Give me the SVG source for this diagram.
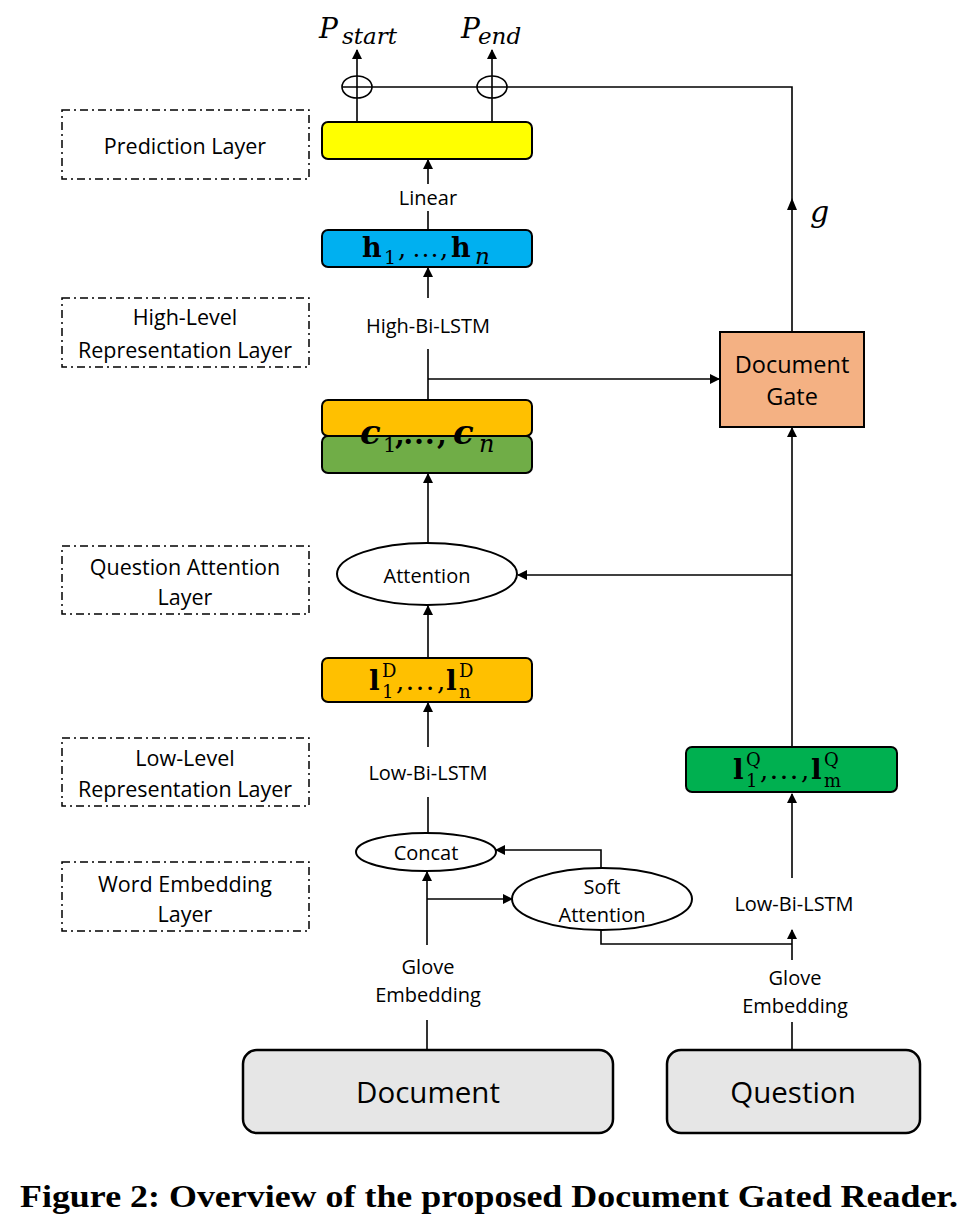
<svg xmlns="http://www.w3.org/2000/svg" width="980" height="1226" viewBox="0 0 980 1226">
<defs>
<marker id="arr" viewBox="0 0 10 10" refX="9" refY="5" markerWidth="10" markerHeight="10" markerUnits="userSpaceOnUse" orient="auto">
<path d="M0,0 L10,5 L0,10 z" fill="#000"/>
</marker>
<style>
.layer{fill:none;stroke:#000;stroke-width:1.5;stroke-dasharray:8 4 2 4}
.lbl{font-family:"Open Sans","Liberation Sans",sans-serif;fill:#000;text-anchor:middle;dominant-baseline:central}
.ll{font-size:21.5px}
.sm{font-size:20px}
.box{stroke:#000;stroke-width:2}
.ln{fill:none;stroke:#000;stroke-width:1.6}
.ar{fill:none;stroke:#000;stroke-width:1.6;marker-end:url(#arr)}
.math{font-family:"DejaVu Serif","Liberation Serif",serif;fill:#000}
.el{font-family:"Liberation Serif","DejaVu Serif",serif}
</style>
</defs>
<rect width="980" height="1226" fill="#fff"/>

<g id="layers">
<g id="layer-prediction"><rect class="layer" x="62" y="110" width="247" height="69"/><text class="lbl ll" x="185" y="145">Prediction Layer</text></g>
<g id="layer-high"><rect class="layer" x="62" y="298" width="247" height="69"/><text class="lbl ll" x="185" y="316">High-Level</text><text class="lbl ll" x="185" y="349">Representation Layer</text></g>
<g id="layer-qatt"><rect class="layer" x="62" y="546" width="247" height="68"/><text class="lbl ll" x="185" y="566">Question Attention</text><text class="lbl ll" x="185" y="596">Layer</text></g>
<g id="layer-low"><rect class="layer" x="62" y="738" width="247" height="68"/><text class="lbl ll" x="185" y="757">Low-Level</text><text class="lbl ll" x="185" y="788">Representation Layer</text></g>
<g id="layer-word"><rect class="layer" x="62" y="862" width="247" height="69"/><text class="lbl ll" x="185" y="883">Word Embedding</text><text class="lbl ll" x="185" y="913">Layer</text></g>
</g>

<g id="connectors">
<path class="ar" d="M357,122 V50"/>
<path class="ar" d="M492,122 V50"/>
<ellipse cx="357" cy="87" rx="15" ry="11" class="ln"/>
<ellipse cx="492" cy="87" rx="15" ry="11" class="ln"/>
<path class="ln" d="M792,332 V87 H342"/>
<path d="M792,198 L787,210 L797,210 z" fill="#000"/>
<path class="ar" d="M428,184 V160"/>
<path class="ln" d="M428,211 V230"/>
<path class="ar" d="M428,298 V268"/>
<path class="ln" d="M428,349 V400"/>
<path class="ar" d="M428,379 H719"/>
<path class="ar" d="M428,543 V474"/>
<path class="ar" d="M428,658 V606"/>
<path class="ar" d="M792,575 H518"/>
<path class="ar" d="M792,747 V428"/>
<path class="ar" d="M428,747 V703"/>
<path class="ln" d="M428,797 V833"/>
<path class="ar" d="M427,945 V872"/>
<path class="ar" d="M427,899 H512"/>
<path class="ar" d="M601,868 V850 H496"/>
<path class="ln" d="M601,930 V944 H792"/>
<path class="ar" d="M792,960 V930"/>
<path class="ar" d="M792,878 V794"/>
<path class="ln" d="M427,1020 V1050"/>
<path class="ln" d="M792,1022 V1050"/>
</g>

<g id="outputs">
<text class="math" font-style="italic" x="319" y="38" font-size="28">P<tspan font-size="23" x="342" y="44">start</tspan></text>
<text class="math" font-style="italic" x="461" y="38" font-size="28">P<tspan font-size="23" x="478" y="44">end</tspan></text>
<text class="math" font-style="italic" x="810" y="222" font-size="30">g</text>
</g>

<g id="node-prediction"><rect class="box" x="322" y="122" width="210" height="37" rx="6" fill="#FFFF00"/></g>
<text class="lbl sm" x="428" y="197">Linear</text>

<g id="node-h"><rect class="box" x="322" y="230" width="210" height="37" rx="6" fill="#00B0F0"/>
<text class="math" font-size="27" y="257"><tspan x="362" font-weight="bold">h</tspan><tspan x="384" y="264" font-size="19">1</tspan><tspan x="398" y="257" font-size="26">,</tspan><tspan class="el" x="412" font-size="27">…</tspan><tspan x="440" font-size="26">,</tspan><tspan x="451" font-weight="bold">h</tspan><tspan x="475" y="264" font-size="23" font-style="italic">n</tspan></text></g>
<text class="lbl sm" x="428" y="325">High-Bi-LSTM</text>

<g id="node-gate"><rect class="box" x="720" y="332" width="144" height="95" fill="#F4B183"/>
<text class="lbl" font-size="23.5" x="792" y="364">Document</text><text class="lbl" font-size="23.5" x="792" y="396">Gate</text></g>

<g id="node-c"><rect class="box" x="322" y="400" width="210" height="36" rx="6" fill="#FFC000"/>
<rect class="box" x="322" y="436" width="210" height="37" rx="6" fill="#70AD47"/>
<text class="math" font-size="34" y="444" font-weight="bold"><tspan x="360" font-style="italic">c</tspan><tspan x="383" y="452" font-size="21" font-weight="normal">1</tspan><tspan x="395" y="444" font-size="28">,</tspan><tspan class="el" x="403" font-size="32">…</tspan><tspan x="437" font-size="28">,</tspan><tspan x="453" font-style="italic">c</tspan><tspan x="479" y="452" font-size="24" font-style="italic" font-weight="normal">n</tspan></text></g>

<g id="node-attention"><ellipse class="box" cx="427" cy="574" rx="90" ry="31" fill="#fff" stroke-width="1.6"/><text class="lbl" font-size="20" x="427" y="575">Attention</text></g>

<g id="node-lD"><rect class="box" x="322" y="658" width="210" height="44" rx="6" fill="#FFC000"/>
<text class="math" font-size="28" y="690"><tspan x="369" font-weight="bold">l</tspan><tspan x="382" y="677" font-size="18">D</tspan><tspan x="382" y="698" font-size="18">1</tspan><tspan x="396" y="690" font-size="26">,</tspan><tspan class="el" x="405" font-size="30">…</tspan><tspan x="437" font-size="26">,</tspan><tspan x="446" font-weight="bold">l</tspan><tspan x="459" y="677" font-size="18">D</tspan><tspan x="459" y="698" font-size="18">n</tspan></text></g>
<text class="lbl sm" x="428" y="772">Low-Bi-LSTM</text>

<g id="node-lQ"><rect class="box" x="686" y="747" width="211" height="45" rx="6" fill="#00B050"/>
<text class="math" font-size="28" y="779"><tspan x="733" font-weight="bold">l</tspan><tspan x="746" y="766" font-size="18">Q</tspan><tspan x="746" y="787" font-size="18">1</tspan><tspan x="760" y="779" font-size="26">,</tspan><tspan class="el" x="769" font-size="30">…</tspan><tspan x="801" font-size="26">,</tspan><tspan x="811" font-weight="bold">l</tspan><tspan x="824" y="766" font-size="18">Q</tspan><tspan x="824" y="787" font-size="18">m</tspan></text></g>

<g id="node-concat"><ellipse class="box" cx="426" cy="852" rx="70" ry="19" fill="#fff" stroke-width="1.6"/><text class="lbl" font-size="20" x="426" y="852">Concat</text></g>
<g id="node-soft"><ellipse class="box" cx="602" cy="899" rx="90" ry="31" fill="#fff" stroke-width="1.6"/><text class="lbl" font-size="20" x="602" y="886">Soft</text><text class="lbl" font-size="20" x="602" y="914">Attention</text></g>
<text class="lbl sm" x="794" y="903">Low-Bi-LSTM</text>

<text class="lbl sm" x="428" y="966">Glove</text><text class="lbl sm" x="428" y="994">Embedding</text>
<text class="lbl sm" x="795" y="977">Glove</text><text class="lbl sm" x="795" y="1005">Embedding</text>

<g id="node-document"><rect x="243" y="1050" width="370" height="83" rx="14" fill="#E6E6E6" stroke="#000" stroke-width="2.5"/><text class="lbl" font-size="29.5" x="428" y="1091">Document</text></g>
<g id="node-question"><rect x="667" y="1050" width="253" height="83" rx="14" fill="#E6E6E6" stroke="#000" stroke-width="2.5"/><text class="lbl" font-size="29.5" x="793" y="1091">Question</text></g>

<text x="20" y="1207" font-family="'Liberation Serif','DejaVu Serif',serif" font-weight="bold" font-size="31" textLength="938" lengthAdjust="spacingAndGlyphs">Figure 2: Overview of the proposed Document Gated Reader.</text>
</svg>
